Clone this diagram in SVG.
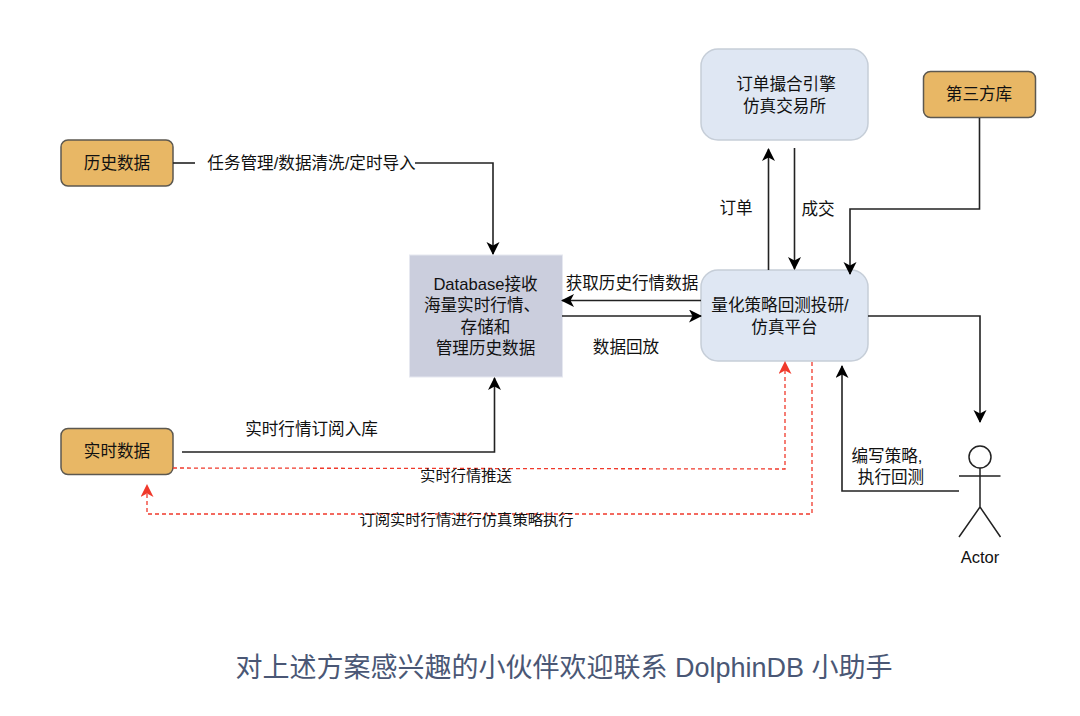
<svg xmlns="http://www.w3.org/2000/svg" width="1080" height="716" viewBox="0 0 1080 716">
<style>
text{font-family:"Liberation Sans","Noto Sans CJK SC",sans-serif;fill:#111;text-anchor:middle;font-size:16.6px}
.o{fill:#e8b765;stroke:#5c5850;stroke-width:1.5}
.b{fill:#dfe7f3;stroke:#c6ced8;stroke-width:1.5}
.k{fill:none;stroke:#222;stroke-width:1.6}
.r{fill:none;stroke:#f0392b;stroke-width:1.3;stroke-dasharray:4 3}
.s{font-size:15.3px}
.a{fill:#000}.ar{fill:#f0392b}
</style>
<defs>
<marker id="ah" markerUnits="userSpaceOnUse" markerWidth="14" markerHeight="14" refX="12" refY="6.500" orient="auto"><path class="a" d="M0 0L13 6.500L0 13L3.500 6.500Z"/></marker>
<marker id="ahr" markerUnits="userSpaceOnUse" markerWidth="14" markerHeight="14" refX="12" refY="6.500" orient="auto"><path class="ar" d="M0 0L13 6.500L0 13L3.500 6.500Z"/></marker>
</defs>
<rect width="1080" height="716" fill="#fff"/>
<g id="n-history"><rect class="o" x="61" y="140" width="112" height="46" rx="7"/><text x="117" y="169">历史数据</text></g>
<g id="n-realtime"><rect class="o" x="61" y="428.500" width="112" height="46" rx="7"/><text x="117" y="457">实时数据</text></g>
<g id="n-third"><rect class="o" x="923.500" y="71.500" width="112" height="46" rx="7"/><text x="979" y="100">第三方库</text></g>
<g id="n-db"><rect x="409.500" y="255" width="153" height="122" fill="#cbcedd" stroke="#e6e8f0"/>
<text x="485.500" y="290">Database接收</text><text x="482" y="311">海量实时行情、</text><text x="485.500" y="333">存储和</text><text x="485.500" y="354">管理历史数据</text></g>
<g id="n-match"><rect class="b" x="701" y="49" width="167" height="91" rx="17"/><text x="786" y="90">订单撮合引擎</text><text x="784.500" y="112">仿真交易所</text></g>
<g id="n-platform"><rect class="b" x="701" y="270" width="167" height="91" rx="17"/><text x="780" y="311">量化策略回测投研/</text><text x="784.500" y="333">仿真平台</text></g>
<g id="n-actor" fill="none" stroke="#222" stroke-width="1.5"><circle cx="980" cy="457" r="11" fill="#fff"/><path d="M980 468V507M959 476H1000.500M980 507L959 537M980 507L1000.500 537"/></g>
<g id="connectors">
<path class="k" d="M173 163H195"/>
<path class="k" d="M415 163H493V254" marker-end="url(#ah)"/>
<path class="k" d="M182 452H494.500V378" marker-end="url(#ah)"/>
<path class="k" d="M701 300.500H562" marker-end="url(#ah)"/>
<path class="k" d="M562 316H701" marker-end="url(#ah)"/>
<path class="k" d="M768.500 270V149" marker-end="url(#ah)"/>
<path class="k" d="M794.500 148V269" marker-end="url(#ah)"/>
<path class="k" d="M979.500 118V209H850V274" marker-end="url(#ah)"/>
<path class="k" d="M868 316H980V422" marker-end="url(#ah)"/>
<path class="k" d="M959 491H842V366" marker-end="url(#ah)"/>
<path class="r" d="M173 468L785 469V362" marker-end="url(#ahr)"/>
<path class="r" d="M812 362V514H147V485" marker-end="url(#ahr)"/>
</g>
<g id="labels">
<text x="311.500" y="169">任务管理/数据清洗/定时导入</text>
<text x="311.500" y="435">实时行情订阅入库</text>
<text class="s" x="466" y="481">实时行情推送</text>
<text class="s" x="466.500" y="525">订阅实时行情进行仿真策略执行</text>
<text x="632" y="289">获取历史行情数据</text>
<text x="626" y="353">数据回放</text>
<text x="736" y="214">订单</text>
<text x="818" y="215">成交</text>
<text x="887" y="462">编写策略,</text>
<text x="891" y="483">执行回测</text>
<text x="980" y="563">Actor</text>
<text x="564" y="677" style="font-size:27px;fill:#4a5775">对上述方案感兴趣的小伙伴欢迎联系 DolphinDB 小助手</text>
</g>
</svg>
